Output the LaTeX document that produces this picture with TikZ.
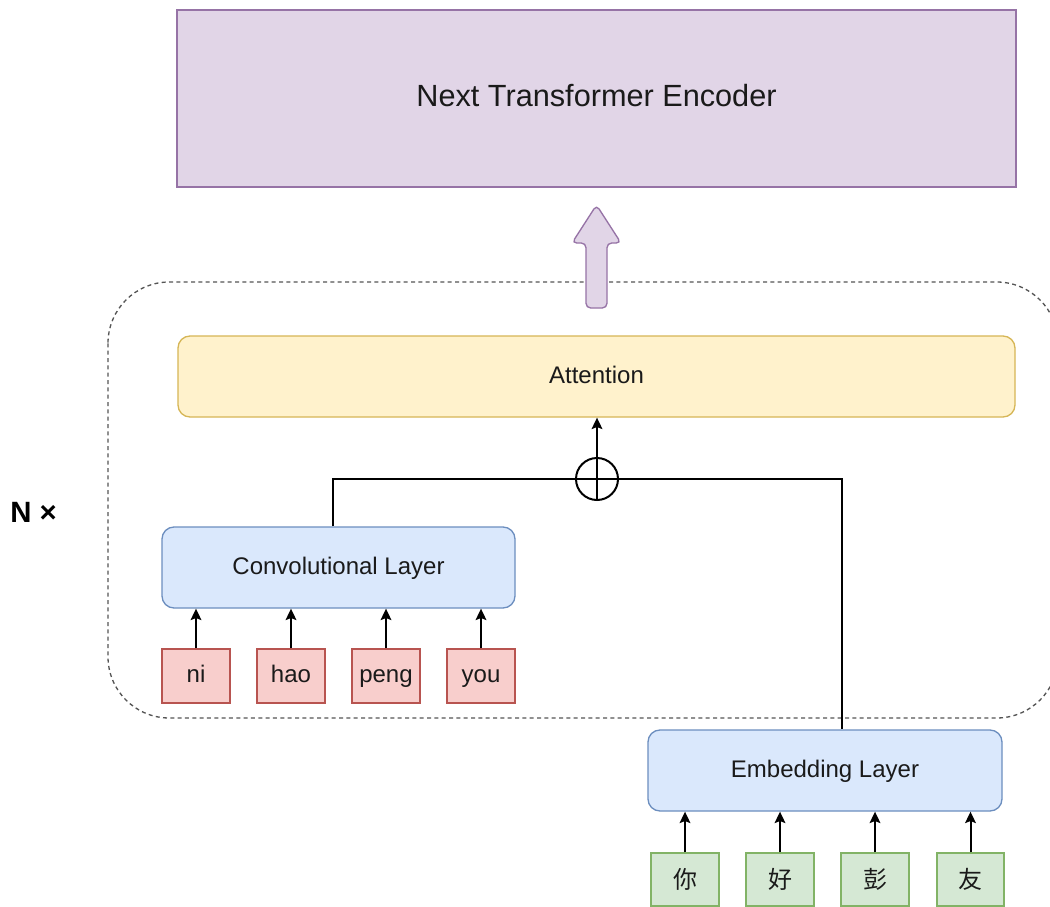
\documentclass[tikz,border=0pt]{standalone}
\usepackage{fontspec}
\setmainfont{Liberation Sans}
\newfontfamily\cjk{Noto Sans CJK SC}
\usetikzlibrary{arrows.meta,fit}
\definecolor{pfill}{HTML}{E1D5E7}
\definecolor{pline}{HTML}{9673A6}
\definecolor{yfill}{HTML}{FFF2CC}
\definecolor{yline}{HTML}{D6B656}
\definecolor{bfill}{HTML}{DAE8FC}
\definecolor{bline}{HTML}{6C8EBF}
\definecolor{rfill}{HTML}{F8CECC}
\definecolor{rline}{HTML}{B85450}
\definecolor{gfill}{HTML}{D5E8D4}
\definecolor{gline}{HTML}{82B366}
\definecolor{dgray}{HTML}{555555}
\definecolor{txt}{HTML}{1A1A1A}
\tikzset{
  lbl/.style={inner sep=0pt, text=txt, text height=13pt, text depth=3pt, font=\fontsize{18pt}{21pt}\selectfont},
  biglbl/.style={inner sep=0pt, text=txt, text height=16.5pt, text depth=4pt, font=\fontsize{23pt}{27pt}\selectfont},
  cjklbl/.style={inner sep=0pt, text=txt, font=\fontsize{18pt}{21pt}\cjk},
  base/.style={inner sep=0pt, line width=1pt},
  encbox/.style={base, draw=pline, fill=pfill, line width=1.5pt},
  attbox/.style={base, draw=yline, fill=yfill, rounded corners=9pt},
  layerbox/.style={base, draw=bline, fill=bfill, rounded corners=9pt},
  tokbox/.style={base, draw=rline, fill=rfill},
  charbox/.style={base, draw=gline, fill=gfill},
  conn/.style={line width=1.5pt, black, -{Stealth[length=8.5pt,width=8pt,inset=1.5pt]}},
  wire/.style={line width=1.5pt, black},
  dashedbox/.style={draw=dgray, line width=1pt, dash pattern=on 3pt off 2.5pt, rounded corners=46pt}
}
\begin{document}
\begin{tikzpicture}[x=0.75pt,y=-0.75pt]
\useasboundingbox (0,0) rectangle (1050,907);
\fill[white] (0,0) rectangle (1050,907);
\begin{scope}
\clip (0,0) rectangle (1050,907);
\draw[dashedbox] (108,282) rectangle (1058,718);
\end{scope}
% top encoder
\node[encbox, fit={(177,10)(1016,187)}, label={[biglbl]center:Next Transformer Encoder}] (enc) {};
% block arrow
\draw[draw=pline, fill=pfill, line width=1pt, rounded corners=3.5pt]
  (586,308) -- (586,243) -- (572,243) -- (596.5,205) -- (621,243) -- (607,243) -- (607,308) -- cycle;
% attention
\node[attbox, fit={(178,336)(1015,417)}, label={[lbl]center:Attention}] (att) {};
% plus circle
\node[draw, circle, line width=1.5pt, minimum size=31.5pt, inner sep=0pt] (plus) at (597,479) {};
\draw[line width=1.5pt] (plus.north) -- (plus.south) (plus.west) -- (plus.east);
% conv layer
\node[layerbox, fit={(162,527)(515,608)}, label={[lbl]center:Convolutional Layer}] (conv) {};
% tokens
\node[tokbox, fit={(162,649)(230,703)}, label={[lbl]center:ni}] (t1) {};
\node[tokbox, fit={(257,649)(325,703)}, label={[lbl]center:hao}] (t2) {};
\node[tokbox, fit={(352,649)(420,703)}, label={[lbl]center:peng}] (t3) {};
\node[tokbox, fit={(447,649)(515,703)}, label={[lbl]center:you}] (t4) {};
% embedding
\node[layerbox, fit={(648,730)(1002,811)}, label={[lbl]center:Embedding Layer}] (emb) {};
\node[charbox, fit={(651,853)(719,906)}, label={[cjklbl]center:你}] (c1) {};
\node[charbox, fit={(746,853)(814,906)}, label={[cjklbl]center:好}] (c2) {};
\node[charbox, fit={(841,853)(909,906)}, label={[cjklbl]center:彭}] (c3) {};
\node[charbox, fit={(937,853)(1004,906)}, label={[cjklbl]center:友}] (c4) {};
% N x
\node[text=black, font=\bfseries\fontsize{22pt}{26pt}\selectfont, anchor=west, inner sep=0pt] (nx) at (10,512) {N ×};
% connectors
\foreach \t in {t1,t2,t3,t4}{
  \draw[conn] (\t.north) -- (\t.north |- conv.south);
}
\foreach \c in {c1,c2,c3,c4}{
  \draw[conn] (\c.north) -- (\c.north |- emb.south);
}
\draw[wire] ([xshift=-4pt]conv.north) |- (plus.west);
\draw[wire] (plus.east) -| ([xshift=12.4pt]emb.north);
\draw[conn] (plus.north) -- (plus.north |- att.south);
\end{tikzpicture}
\end{document}
